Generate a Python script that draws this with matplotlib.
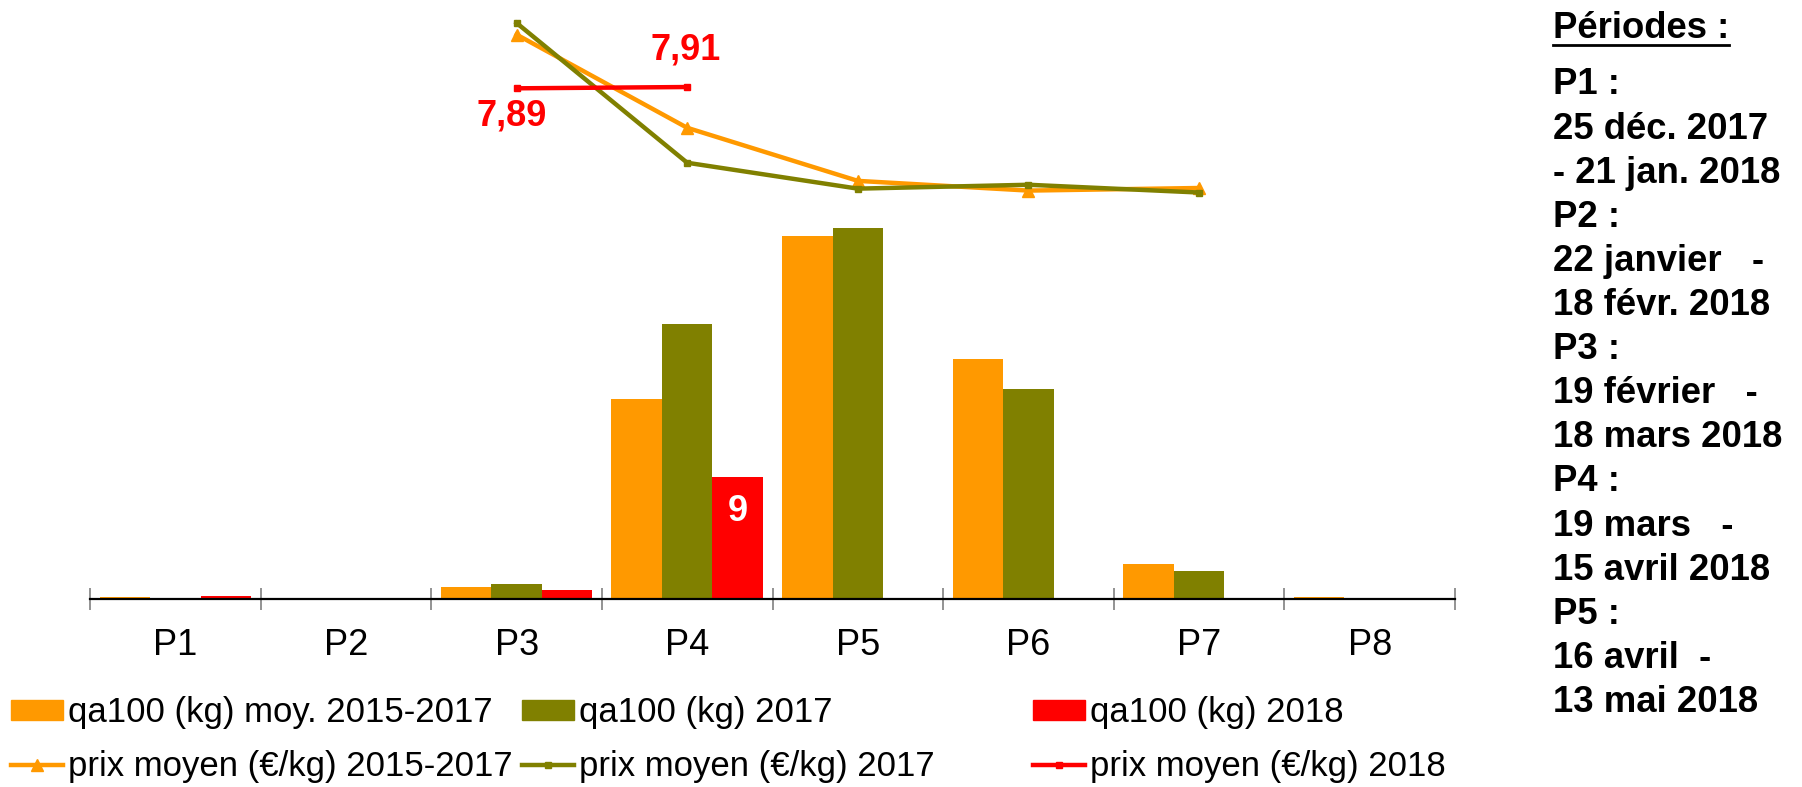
import numpy as np
import matplotlib.pyplot as plt
from matplotlib.patches import Patch
from matplotlib.lines import Line2D

plt.rcParams['font.family'] = ['Liberation Sans', 'DejaVu Sans']

# data
periods = ["P1", "P2", "P3", "P4", "P5", "P6", "P7", "P8"]
qa_moy = [0.17, 0.08, 0.85, 14.8, 26.8, 17.7, 2.6, 0.17]
qa_2017 = [0.08, 0.04, 1.1, 20.3, 27.4, 15.5, 2.1, 0.1]
qa_2018 = [0.21, 0.06, 0.68, 9, np.nan, np.nan, np.nan, np.nan]
prix_moy = [np.nan, np.nan, 8.72, 7.28, 6.46, 6.31, 6.35, np.nan]
prix_2017 = [np.nan, np.nan, 8.90, 6.74, 6.34, 6.40, 6.28, np.nan]
prix_2018 = [np.nan, np.nan, 7.89, 7.91, np.nan, np.nan, np.nan, np.nan]

side_lines = ["P1 :", "25 déc. 2017", "- 21 jan. 2018",
              "P2 :", "22 janvier   -", "18 févr. 2018",
              "P3 :", "19 février   -", "18 mars 2018",
              "P4 :", "19 mars   -", "15 avril 2018",
              "P5 :", "16 avril  -", "13 mai 2018"]

ORANGE = "#FF9900"
OLIVE = "#808000"
RED = "#FF0000"

W, H = 1802, 787
fig = plt.figure(figsize=(W / 100, H / 100), dpi=100)
ax = fig.add_axes([90 / W, 1 - 599 / H, 1365 / W, 589 / H])

x = np.arange(len(periods))
bw = 0.296
ax.bar(x - bw, qa_moy, bw, color=ORANGE)
ax.bar(x, qa_2017, bw, color=OLIVE)
ax.bar(x + bw, qa_2018, bw, color=RED)
ax.set_ylim(0, 43.5)
ax.set_xlim(-0.5, len(periods) - 0.5)

ax.annotate("9", (x[3] + bw, qa_2018[3]), xytext=(0, -34),
            textcoords="offset pixels", ha="center", va="center",
            color="white", fontsize=26, fontweight="bold")

for s in ["top", "left", "right"]:
    ax.spines[s].set_visible(False)
ax.spines["bottom"].set_linewidth(1.6)
ax.set_yticks([])
ax.set_xticks(x)
ax.set_xticklabels(periods, fontsize=26)
ax.tick_params(axis="x", which="major", length=0, pad=21)
ax.set_xticks(np.arange(-0.5, len(periods)), minor=True)
ax.tick_params(axis="x", which="minor", direction="inout", length=16,
               width=1.2, color="#808080")

ax2 = ax.twinx()
ax2.set_ylim(0, 9.1)
ax2.plot(x, prix_moy, color=ORANGE, lw=3.2, marker="^", ms=9)
ax2.plot(x, prix_2017, color=OLIVE, lw=3.2, marker="s", ms=5)
ax2.plot(x, prix_2018, color=RED, lw=3.2, marker="s", ms=5)
ax2.axis("off")

ax2.annotate("7,89", (x[2], prix_2018[2]), xytext=(-5, -28),
             textcoords="offset pixels", ha="center", va="center",
             color=RED, fontsize=26, fontweight="bold")
ax2.annotate("7,91", (x[3], prix_2018[3]), xytext=(-2, 37),
             textcoords="offset pixels", ha="center", va="center",
             color=RED, fontsize=26, fontweight="bold")

# legend: three columns placed separately like the original
cols = [
    ([Patch(color=ORANGE), Line2D([], [], color=ORANGE, lw=3.2, marker="^", ms=8)],
     ["qa100 (kg) moy. 2015-2017", "prix moyen (€/kg) 2015-2017"], 11),
    ([Patch(color=OLIVE), Line2D([], [], color=OLIVE, lw=3.2, marker="s", ms=4)],
     ["qa100 (kg) 2017", "prix moyen (€/kg) 2017"], 522),
    ([Patch(color=RED), Line2D([], [], color=RED, lw=3.2, marker="s", ms=4)],
     ["qa100 (kg) 2018", "prix moyen (€/kg) 2018"], 1033),
]
for handles, labels, xpx in cols:
    fig.legend(handles, labels, loc="upper left",
               bbox_to_anchor=(xpx / W, 1 - 696 / H), frameon=False,
               fontsize=25, handlelength=1.5, handleheight=0.52,
               handletextpad=0.15, labelspacing=0.61, borderpad=0,
               borderaxespad=0)

# period notes on the right
t = fig.text(1553 / W, 1 - 28 / H, "Périodes :", fontsize=26.3,
             fontweight="bold", ha="left", va="center")
for i, line in enumerate(side_lines):
    fig.text(1553 / W, 1 - (85 + 44.1 * i) / H, line, fontsize=26.3,
             fontweight="bold", ha="left", va="center")

r = fig.canvas.get_renderer()
bb = t.get_window_extent(r)
uy = bb.y0 + 1
fig.add_artist(Line2D([bb.x0 / W, bb.x1 / W], [uy / H, uy / H],
                      color="black", lw=2))

fig.savefig("out.png", dpi=100)
